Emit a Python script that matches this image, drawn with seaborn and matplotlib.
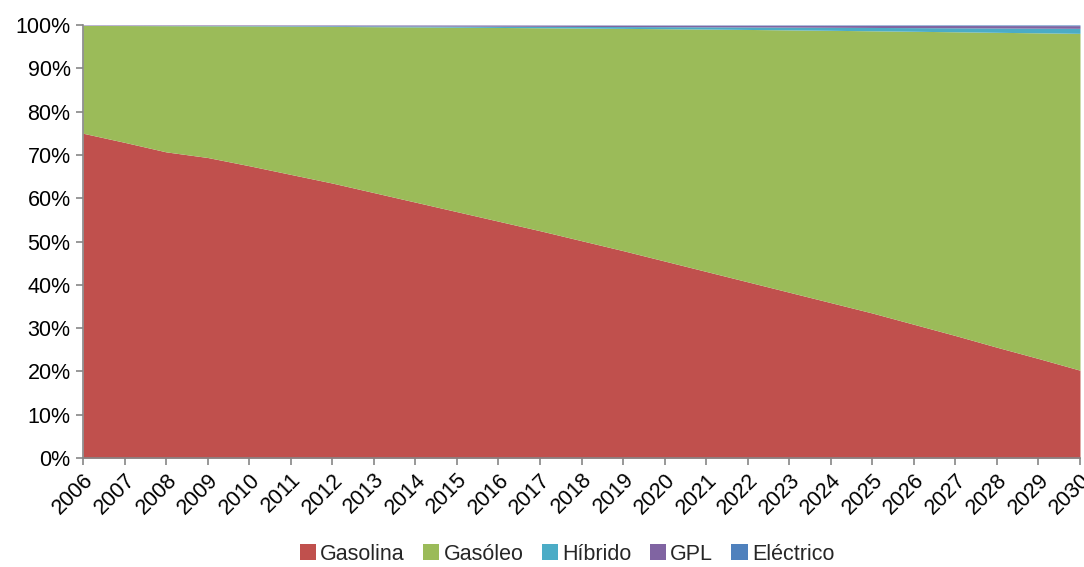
import matplotlib
matplotlib.use("Agg")
import matplotlib.pyplot as plt
from matplotlib.patches import Patch
from matplotlib.ticker import FuncFormatter
import seaborn as sns

# Datos (% del parque por tipo de combustible)
anos = list(range(2006, 2031))
gasolina = [75.0, 72.9, 70.7, 69.4, 67.5, 65.5, 63.5, 61.3, 59.1, 56.9, 54.7, 52.5, 50.2,
            47.9, 45.5, 43.1, 40.7, 38.3, 35.9, 33.5, 30.9, 28.3, 25.6, 23.0, 20.3]
gasoleo = [24.88, 26.96, 29.13, 30.40, 32.27, 34.21, 36.16, 38.30, 40.45, 42.58, 44.72, 46.85,
           49.08, 51.31, 53.63, 55.95, 58.26, 60.56, 62.86, 65.15, 67.64, 70.12, 72.70, 75.18, 77.76]
hibrido = [0.02, 0.03, 0.05, 0.07, 0.09, 0.12, 0.15, 0.18, 0.21, 0.25, 0.29, 0.33, 0.37,
           0.42, 0.47, 0.52, 0.58, 0.64, 0.70, 0.77, 0.84, 0.92, 1.00, 1.08, 1.16]
gpl = [0.10, 0.11, 0.12, 0.13, 0.14, 0.16, 0.18, 0.20, 0.22, 0.24, 0.26, 0.28, 0.30,
       0.32, 0.34, 0.36, 0.38, 0.41, 0.44, 0.47, 0.50, 0.53, 0.56, 0.59, 0.62]
electrico = [0, 0, 0, 0, 0, 0.01, 0.01, 0.02, 0.02, 0.03, 0.03, 0.04, 0.05,
             0.05, 0.06, 0.07, 0.08, 0.09, 0.10, 0.11, 0.12, 0.13, 0.14, 0.15, 0.16]

nombres = ["Gasolina", "Gasóleo", "Híbrido", "GPL", "Eléctrico"]
colores = ["#C0504D", "#9BBB59", "#4BACC6", "#8064A2", "#4F81BD"]

sns.set_style("white")
plt.rcParams["font.family"] = ["Liberation Sans", "DejaVu Sans"]

fig = plt.figure(figsize=(10.84, 5.67), dpi=100)
ax = fig.add_axes([0.0766, 0.192, 0.9197, 0.764])

ax.stackplot(anos, gasolina, gasoleo, hibrido, gpl, electrico, colors=colores, linewidth=0)

ax.set_xlim(2006, 2030)
ax.set_ylim(0, 100)
ax.set_xticks(anos)
ax.set_xticklabels([str(a) for a in anos], rotation=45, ha="right", rotation_mode="anchor")
ax.set_yticks(range(0, 101, 10))
ax.yaxis.set_major_formatter(FuncFormatter(lambda v, p: f"{int(v)}%"))
ax.tick_params(axis="both", labelsize=15.5, colors="#000000", length=5, width=1.2,
               direction="out", bottom=True, left=True)
ax.tick_params(axis="both", color="#868686")
ax.tick_params(axis="x", pad=3)
ax.tick_params(axis="y", pad=4)

for lado in ["top", "right"]:
    ax.spines[lado].set_visible(False)
for lado in ["left", "bottom"]:
    ax.spines[lado].set_color("#868686")
    ax.spines[lado].set_linewidth(1.2)

handles = [Patch(facecolor=c, edgecolor="none", label=n) for n, c in zip(nombres, colores)]
fig.legend(handles=handles, loc="lower center", bbox_to_anchor=(0.523, -0.03), ncol=5,
           frameon=False, fontsize=15.5, handlelength=0.75, handleheight=0.75,
           handletextpad=0.2, columnspacing=0.85)

fig.savefig("out.png", dpi=100)
